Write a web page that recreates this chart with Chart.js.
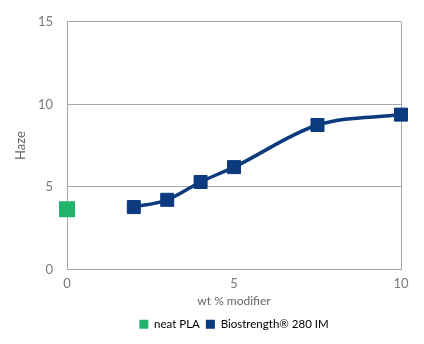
<!DOCTYPE html>
<html>
<head>
<meta charset="utf-8">
<script src="https://cdn.jsdelivr.net/npm/chart.js@4/dist/chart.umd.min.js"></script>
<style>
  html, body { margin: 0; padding: 0; background: #fff; }
  #wrap { width: 424px; height: 344px; }
</style>
</head>
<body>
<div id="wrap"><canvas id="hazeChart" width="424" height="344"></canvas></div>
<script>
// data
const neatLabel = "neat PLA";
const neatX = [0];
const neatY = [3.65];

const bioLabel = "Biostrength® 280 IM";
const bioX = [2, 3, 4, 5, 7.5, 10];
const bioY = [3.78, 4.22, 5.3, 6.2, 8.75, 9.38];

const xTicks = [0, 5, 10];
const yTicks = [0, 5, 10, 15];

const textGrey = "#7a7a7a";
const lineGrey = "#a8a8a8";
const navy = "#0b3a7e";
const green = "#1fb36b";

Chart.defaults.font.family = "Lato, 'Open Sans', sans-serif";
Chart.defaults.color = textGrey;

const toPoints = (xs, ys) => xs.map((x, i) => ({ x: x, y: ys[i] }));

const ctx = document.getElementById("hazeChart").getContext("2d");

const config = {
  type: "scatter",
  data: {
    datasets: [
      {
        label: neatLabel,
        data: toPoints(neatX, neatY),
        pointStyle: "rect",
        pointRadius: 11.3,
        backgroundColor: green,
        borderColor: green,
        pointBorderWidth: 0,
        clip: false,
      },
      {
        label: bioLabel,
        data: toPoints(bioX, bioY),
        showLine: true,
        cubicInterpolationMode: "monotone",
        pointStyle: "rect",
        pointRadius: 9.2,
        backgroundColor: navy,
        borderColor: navy,
        borderWidth: 3.5,
        pointBorderWidth: 1,
        clip: false,
      },
    ],
  },
  options: {
    responsive: false,
    animation: false,
    layout: {
      autoPadding: false,
      padding: { top: 5, right: 23, left: 13, bottom: 4 },
    },
    plugins: {
      tooltip: { enabled: false },
      legend: {
        position: "bottom",
        fullSize: false,
        labels: {
          boxWidth: 9,
          boxHeight: 9,
          padding: 6,
          font: { size: 11.5 },
          color: "#555",
          // plain filled squares, no border
          generateLabels: (chart) =>
            chart.data.datasets.map((ds, i) => ({
              text: ds.label,
              fillStyle: ds.backgroundColor,
              strokeStyle: ds.backgroundColor,
              lineWidth: 0,
              hidden: false,
              datasetIndex: i,
            })),
        },
      },
    },
    scales: {
      x: {
        type: "linear",
        min: 0,
        max: 10,
        afterBuildTicks: (axis) => {
          axis.ticks = xTicks.map((v) => ({ value: v }));
        },
        afterFit: (axis) => {
          axis.height = 43;
        },
        grid: {
          drawTicks: false,
          color: (c) => (c.tick && c.tick.value === 10 ? lineGrey : "transparent"),
        },
        border: { color: lineGrey, width: 1 },
        ticks: { padding: 7, font: { size: 13 }, color: textGrey },
        title: {
          display: true,
          text: "wt % modifier",
          font: { size: 12 },
          color: "#666",
          padding: { top: 0, bottom: 4 },
        },
      },
      y: {
        type: "linear",
        min: 0,
        max: 15,
        afterBuildTicks: (axis) => {
          axis.ticks = yTicks.map((v) => ({ value: v }));
        },
        afterFit: (axis) => {
          axis.width = 54;
        },
        grid: { drawTicks: false, color: lineGrey },
        border: { color: lineGrey, width: 1 },
        ticks: { padding: 14, font: { size: 13 }, color: textGrey },
        title: {
          display: true,
          text: "Haze",
          font: { size: 13 },
          color: "#666",
          padding: { top: 0, bottom: 8 },
        },
      },
    },
  },
};

const hazeChart = new Chart(ctx, config);
</script>
</body>
</html>
